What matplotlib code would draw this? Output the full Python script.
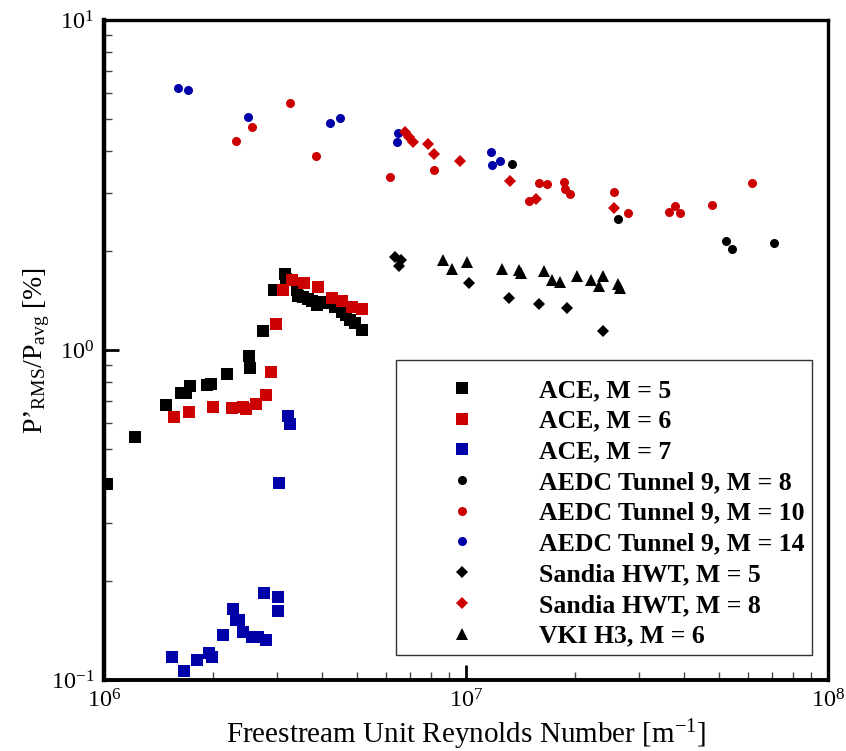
import matplotlib
matplotlib.use("Agg")
import matplotlib.pyplot as plt

plt.rcParams['font.family'] = ['Liberation Serif', 'DejaVu Serif']
plt.rcParams['mathtext.fontset'] = 'custom'
plt.rcParams['mathtext.rm'] = 'Liberation Serif'
plt.rcParams['mathtext.it'] = 'Liberation Serif:italic'
plt.rcParams['mathtext.bf'] = 'Liberation Serif:bold'

RED = '#cc0000'
BLUE = '#0000a8'

# ---- data (Re_unit [1/m], P'rms/Pavg [%]) ----
ace5_re = [1.02e6, 1.22e6, 1.486e6, 1.632e6, 1.682e6, 1.731e6, 1.929e6, 1.978e6, 2.191e6,
           2.520e6, 2.536e6, 2.754e6, 2.949e6, 3.162e6, 3.183e6, 3.414e6, 3.429e6, 3.539e6,
           3.653e6, 3.762e6, 3.869e6, 3.951e6, 4.123e6, 4.346e6, 4.553e6, 4.652e6, 4.781e6,
           4.935e6, 5.170e6]
ace5_p = [0.392, 0.544, 0.680, 0.739, 0.739, 0.776, 0.783, 0.787, 0.844,
          0.959, 0.880, 1.142, 1.517, 1.700, 1.641, 1.520, 1.458, 1.451,
          1.424, 1.411, 1.369, 1.401, 1.385, 1.353, 1.306, 1.276, 1.233,
          1.210, 1.150]

ace6_re = [1.564e6, 1.720e6, 2.004e6, 2.262e6, 2.426e6, 2.472e6, 2.635e6, 2.809e6, 2.900e6,
           2.992e6, 3.128e6, 3.313e6, 3.575e6, 3.908e6, 4.256e6, 4.553e6, 4.833e6, 5.170e6]
ace6_p = [0.625, 0.647, 0.671, 0.666, 0.673, 0.661, 0.685, 0.729, 0.856,
          1.199, 1.517, 1.630, 1.593, 1.549, 1.434, 1.405, 1.347, 1.328]

ace7_re = [1.544e6, 1.667e6, 1.810e6, 1.954e6, 1.992e6, 2.136e6, 2.277e6, 2.309e6, 2.361e6,
           2.426e6, 2.559e6, 2.669e6, 2.797e6, 2.772e6, 3.030e6, 3.030e6, 3.049e6, 3.229e6,
           3.270e6]
ace7_p = [0.1172, 0.1063, 0.1147, 0.1205, 0.1172, 0.1366, 0.1638, 0.1520, 0.1520,
          0.1395, 0.1353, 0.1347, 0.1322, 0.1838, 0.1780, 0.1615, 0.3946, 0.6297,
          0.5955]

t9m8_re = [1.337e7, 2.634e7, 5.218e7, 5.431e7, 7.092e7]
t9m8_p = [3.661, 2.503, 2.144, 2.028, 2.114]

t9m10_re = [2.316e6, 2.568e6, 3.258e6, 3.851e6, 6.179e6, 8.141e6, 1.496e7, 1.594e7, 1.671e7,
            1.865e7, 1.877e7, 1.938e7, 2.559e7, 2.802e7, 3.645e7, 3.772e7, 3.909e7, 4.781e7,
            6.179e7]
t9m10_p = [4.307, 4.730, 5.616, 3.864, 3.351, 3.504, 2.822, 3.214, 3.191,
           3.222, 3.069, 2.970, 3.006, 2.596, 2.619, 2.737, 2.601, 2.756,
           3.206]

t9m14_re = [1.598e6, 1.710e6, 2.499e6, 4.210e6, 4.478e6, 6.477e6, 6.436e6, 1.170e7, 1.180e7,
            1.239e7]
t9m14_p = [6.209, 6.136, 5.072, 4.885, 5.047, 4.537, 4.260, 3.990, 3.629, 3.731]

hwt5_re = [6.367e6, 6.602e6, 6.544e6, 1.017e7, 1.317e7, 1.594e7, 1.897e7, 2.395e7]
hwt5_p = [1.918, 1.875, 1.797, 1.596, 1.437, 1.379, 1.341, 1.144]

hwt8_re = [6.785e6, 6.973e6, 7.126e6, 7.870e6, 8.156e6, 9.645e6, 1.326e7, 1.558e7, 2.559e7]
hwt8_p = [4.568, 4.430, 4.260, 4.219, 3.917, 3.731, 3.252, 2.861, 2.688]

vki_re = [8.622e6, 9.166e6, 1.006e7, 1.257e7, 1.398e7, 1.416e7, 1.646e7, 1.725e7, 1.815e7,
          2.026e7, 2.215e7, 2.331e7, 2.395e7, 2.634e7, 2.663e7]
vki_p = [1.875, 1.756, 1.852, 1.760, 1.748, 1.708, 1.735, 1.630, 1.607,
         1.680, 1.630, 1.566, 1.673, 1.582, 1.538]

labels = ['ACE, M = 5', 'ACE, M = 6', 'ACE, M = 7',
          'AEDC Tunnel 9, M = 8', 'AEDC Tunnel 9, M = 10', 'AEDC Tunnel 9, M = 14',
          'Sandia HWT, M = 5', 'Sandia HWT, M = 8', 'VKI H3, M = 6']

series = [
    (ace5_re, ace5_p, 's', 'black', 8.0),
    (ace6_re, ace6_p, 's', RED, 8.0),
    (ace7_re, ace7_p, 's', BLUE, 8.0),
    (t9m8_re, t9m8_p, 'o', 'black', 6.5),
    (t9m10_re, t9m10_p, 'o', RED, 6.5),
    (t9m14_re, t9m14_p, 'o', BLUE, 6.5),
    (hwt5_re, hwt5_p, 'D', 'black', 6.0),
    (hwt8_re, hwt8_p, 'D', RED, 6.0),
    (vki_re, vki_p, '^', 'black', 8.0),
]

fig = plt.figure(figsize=(8.46, 7.51), dpi=100)
ax = fig.add_axes([104/846, 1-680/751, 724/846, 660/751])

for (x, y, m, c, ms), lab in zip(series, labels):
    ax.plot(x, y, linestyle='none', marker=m, color=c, markersize=ms,
            markeredgewidth=0, label=lab)

ax.set_xscale('log')
ax.set_yscale('log')
ax.set_xlim(1e6, 1e8)
ax.set_ylim(0.1, 10)

for side, lw in [('left', 3.2), ('bottom', 2.8), ('top', 2.4), ('right', 2.4)]:
    ax.spines[side].set_linewidth(lw)

ax.tick_params(which='major', direction='in', length=10.5, width=2.0,
               labelsize=17.5, top=False, right=False, pad=7)
ax.tick_params(which='minor', direction='in', length=5.8, width=1.0,
               top=False, right=False, color='#444444')

ax.set_xlabel('Freestream Unit Reynolds Number [m$^{-1}$]', fontsize=21, labelpad=3)
ax.set_ylabel('P\u2019$_{\\mathrm{RMS}}$/P$_{\\mathrm{avg}}$ [%]', fontsize=20)
ax.yaxis.set_label_coords((52-104)/724, 0.5)

leg = ax.legend(loc='upper left', bbox_to_anchor=((396-104)/724, (680-360)/660),
                borderaxespad=0, fancybox=False, framealpha=1, edgecolor='#333333',
                prop={'family': 'Liberation Serif', 'weight': 'bold', 'size': 18.5},
                title=' ', title_fontproperties={'family': 'Liberation Serif', 'size': 3.5},
                handlelength=4.58, handletextpad=0.71, borderpad=0.28, labelspacing=0.30,
                numpoints=1)
leg.get_frame().set_linewidth(1.0)

fig.savefig('out.png', dpi=100)
